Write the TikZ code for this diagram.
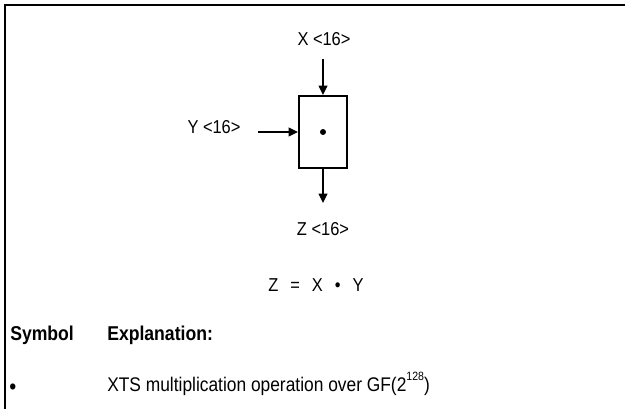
\documentclass[tikz,border=0pt]{standalone}
\usepackage{fontspec}
\setmainfont[FakeStretch=0.88]{Liberation Sans}
\usetikzlibrary{arrows.meta}

\begin{document}
\begin{tikzpicture}[x=0.75pt,y=-0.75pt,
    lbl/.style={font=\fontsize{14}{16}\selectfont, inner sep=0pt},
    legend/.style={font=\fontsize{14.8}{17}\selectfont, inner sep=0pt, anchor=base west},
    arr/.style={line width=1.1pt, -{Triangle[length=7pt,width=6.5pt]}}]
    \useasboundingbox (0,0) rectangle (625,409);
    % frame
    \draw[line width=1.5pt] (5,409) -- (5,5) -- (625,5);
    % multiplier block
    \node[draw, line width=1.5pt, minimum width=36pt, minimum height=54pt, inner sep=0pt] (mul) at (323,132) {};
    \fill (mul.center) circle (3);
    % inputs and output
    \node[lbl, anchor=base] (xin) at (324,46) {X <16>};
    \coordinate (xtop) at (323,59);
    \draw[arr] (xtop) -- (mul.north);
    \node[lbl, anchor=base] (yin) at (214,134) {Y <16>};
    \coordinate (yleft) at (258,132);
    \draw[arr] (yleft) -- (mul.west);
    \coordinate (zbot) at (323,203);
    \draw[arr] (mul.south) -- (zbot);
    \node[lbl, anchor=base] (zout) at (323,236) {Z <16>};
    % equation
    \node[lbl, anchor=base] (eq) at (316,292) {Z\hspace{9pt}=\hspace{9pt}X\hspace{9pt}•\hspace{9pt}Y};
    % legend
    \node[legend, font=\fontsize{15}{17}\selectfont\bfseries] (symhd) at (10,341) {Symbol};
    \node[legend, font=\fontsize{15}{17}\selectfont\bfseries] (exphd) at (107,341) {Explanation:};
    \node[legend, font=\fontsize{17}{17}\selectfont] (sym) at (9,395) {•};
    \node[legend] (expl) at (107,392) {XTS multiplication operation over GF(2\raisebox{0.6em}{\fontsize{9}{9}\selectfont 128})};
\end{tikzpicture}
\end{document}
